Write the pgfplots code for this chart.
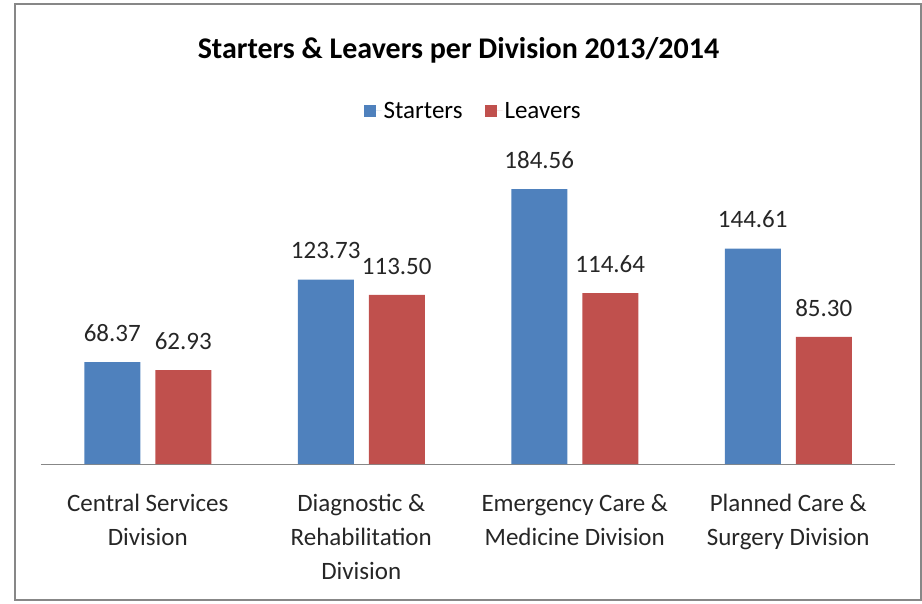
\documentclass[border=0pt]{standalone}
\usepackage{pgfplots}
\pgfplotsset{compat=1.18}
\usepackage{fontspec}
\setmainfont{Carlito}
\definecolor{sblue}{HTML}{4F81BD}
\definecolor{lred}{HTML}{C0504D}
\definecolor{framegray}{HTML}{878787}
\begin{document}
\begin{tikzpicture}[x=1pt,y=1pt]
\useasboundingbox (0,0) rectangle (922,-604);
\draw[framegray,line width=2pt] (15,-4) rectangle (921,-600);
\node[font=\bfseries\fontsize{30}{34}\selectfont] at (458.5,-50) {Starters \& Leavers per Division 2013/2014};
\begin{axis}[
  at={(41pt,-464pt)}, anchor=south west,
  scale only axis, width=854pt, height=298pt,
  ymin=0, ymax=200, xmin=-0.5, xmax=3.5,
  ybar=15pt, bar width=56pt,
  axis y line=none, axis x line*=bottom,
  x axis line style={-, draw=framegray, line width=1pt},
  xtick={0,1,2,3}, major tick length=0pt,
  xticklabels={Central Services\\Division, Diagnostic \&\\Rehabilitation\\Division, Emergency Care \&\\Medicine Division, Planned Care \&\\Surgery Division},
  xticklabel style={align=center, font=\fontsize{25}{34}\selectfont, text=black!85, yshift=-27pt},
  nodes near coords,
  point meta=y,
  every node near coord/.append style={font=\fontsize{25}{30}\selectfont, text=black!85, yshift=17pt,
    /pgf/number format/assume math mode=true, /pgf/number format/fixed, /pgf/number format/fixed zerofill, /pgf/number format/precision=2},
  clip=false,
  legend style={at={(0.506,1.185)}, anchor=center, draw=none, legend columns=2, font=\fontsize{25}{30}\selectfont, /tikz/every even column/.append style={column sep=20pt}},
  area legend,
  legend image code/.code={\fill[#1] (0pt,-6pt) rectangle (12pt,6pt); \path (12pt,0pt) -- (18pt,0pt);},
]
\addplot[fill=sblue, draw=none] coordinates {(0,68.37) (1,123.73) (2,184.56) (3,144.61)};
\addplot[fill=lred, draw=none] coordinates {(0,62.93) (1,113.50) (2,114.64) (3,85.30)};
\legend{Starters, Leavers}
\end{axis}
\end{tikzpicture}
\end{document}
